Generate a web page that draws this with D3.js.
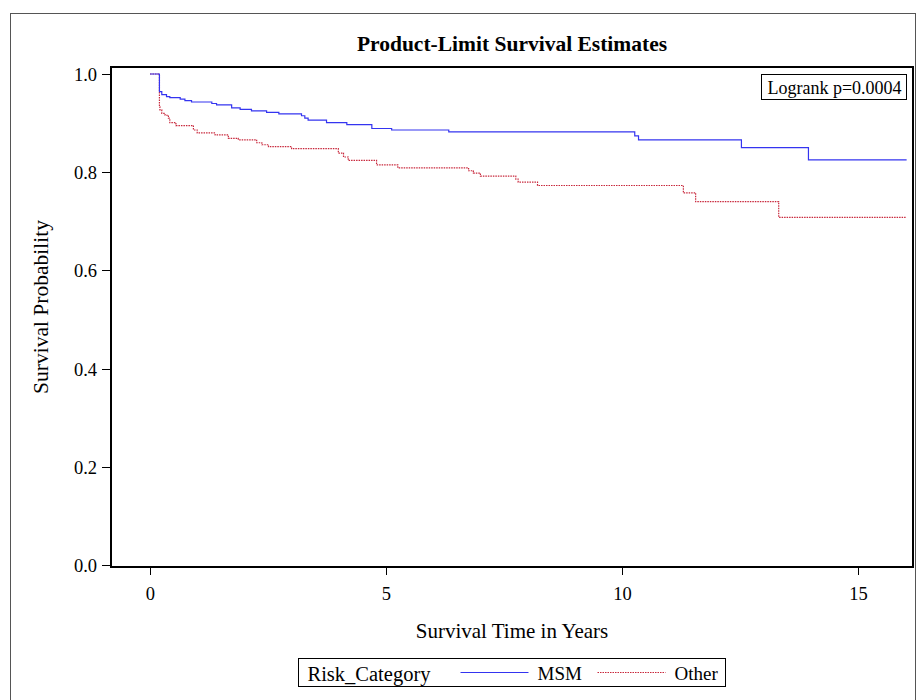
<!DOCTYPE html>
<html>
<head>
<meta charset="utf-8">
<script src="https://cdn.jsdelivr.net/npm/d3@7"></script>
<style>
    body { margin: 0; background: white; }
    svg { display: block; font-family: "Liberation Serif", "Times New Roman", serif; }
    .axis path, .axis line { fill: none; stroke: black; shape-rendering: crispEdges; }
    .axis text { font-family: "Liberation Serif", serif; font-size: 18.5px; fill: black; }
</style>
</head>
<body>
<div id="chart"></div>
<script>
    // Kaplan-Meier step points (time in years, survival)
    var msmTimes = [0, 0.20, 0.25, 0.35, 0.42, 0.64, 0.74, 0.88, 1.31, 1.41, 1.73, 1.91, 2.15, 2.47, 2.73,
        3.21, 3.28, 3.35, 3.74, 4.17, 4.70, 5.12, 6.33, 10.27, 10.35, 12.53, 13.95, 16.03];
    var msmSurv = [1.0, 0.964, 0.958, 0.954, 0.952, 0.949, 0.946, 0.943, 0.940, 0.937, 0.931, 0.928, 0.925, 0.922, 0.919,
        0.915, 0.910, 0.906, 0.901, 0.897, 0.889, 0.886, 0.882, 0.874, 0.866, 0.850, 0.825, 0.825];

    var otherTimes = [0, 0.20, 0.21, 0.25, 0.32, 0.39, 0.42, 0.55, 0.92, 1.00, 1.38, 1.66, 1.87, 2.26, 2.37, 2.51,
        3.00, 3.99, 4.10, 4.20, 4.80, 5.25, 6.75, 6.85, 7.00, 7.75, 7.80, 8.21, 11.30, 11.56, 13.32, 16.03];
    var otherSurv = [1.0, 0.933, 0.927, 0.920, 0.916, 0.910, 0.901, 0.895, 0.886, 0.880, 0.876, 0.869, 0.866, 0.860, 0.856, 0.852,
        0.848, 0.839, 0.831, 0.824, 0.815, 0.809, 0.803, 0.798, 0.792, 0.786, 0.780, 0.773, 0.758, 0.740, 0.708, 0.708];

    var xTicks = [0, 5, 10, 15];
    var yTicks = [0.0, 0.2, 0.4, 0.6, 0.8, 1.0];
    var seriesNames = ["MSM", "Other"];

    var W = 917, H = 700;
    var frame = { left: 111, top: 67, right: 913, bottom: 567 };

    var svg = d3.select("#chart").append("svg")
        .attr("width", W)
        .attr("height", H);

    // outer border of the graph area
    svg.append("rect")
        .attr("x", 10.5).attr("y", 13.5)
        .attr("width", 905).attr("height", 720)
        .attr("fill", "none")
        .attr("stroke", "#555");

    var x = d3.scaleLinear().domain([-0.826, 16.165]).range([frame.left, frame.right]);
    var y = d3.scaleLinear().domain([-0.004, 1.0143]).range([frame.bottom, frame.top]);

    // title
    svg.append("text")
        .attr("x", (frame.left + frame.right) / 2)
        .attr("y", 51)
        .attr("text-anchor", "middle")
        .style("font-weight", "bold")
        .style("font-size", "21.5px")
        .text("Product-Limit Survival Estimates");

    var line = d3.line()
        .x(function (d) { return x(d[0]); })
        .y(function (d) { return y(d[1]); })
        .curve(d3.curveStepAfter);

    var msm = msmTimes.map(function (t, i) { return [t, msmSurv[i]]; });
    var other = otherTimes.map(function (t, i) { return [t, otherSurv[i]]; });

    svg.append("path")
        .datum(other)
        .attr("d", line)
        .attr("fill", "none")
        .attr("stroke", "#c8283c")
        .attr("stroke-width", 1.2)
        .attr("stroke-dasharray", "1.5,1");

    svg.append("path")
        .datum(msm)
        .attr("d", line)
        .attr("fill", "none")
        .attr("stroke", "#3434f0")
        .attr("stroke-width", 1.2);

    // frame
    svg.append("rect")
        .attr("x", frame.left).attr("y", frame.top)
        .attr("width", frame.right - frame.left)
        .attr("height", frame.bottom - frame.top)
        .attr("fill", "none")
        .attr("stroke", "black")
        .attr("stroke-width", 1.5)
        .style("shape-rendering", "crispEdges");

    var xAxis = d3.axisBottom(x).tickValues(xTicks).tickSize(8).tickPadding(12).tickSizeOuter(0)
        .tickFormat(d3.format("d"));
    var gx = svg.append("g")
        .attr("class", "axis")
        .attr("transform", "translate(0," + frame.bottom + ")")
        .call(xAxis);
    gx.select(".domain").remove();

    var yAxis = d3.axisLeft(y).tickValues(yTicks).tickSize(9).tickPadding(5).tickSizeOuter(0)
        .tickFormat(d3.format(".1f"));
    var gy = svg.append("g")
        .attr("class", "axis")
        .attr("transform", "translate(" + frame.left + ",0)")
        .call(yAxis);
    gy.select(".domain").remove();
    gy.selectAll("text").attr("dy", "0.35em");

    // axis labels
    svg.append("text")
        .attr("x", (frame.left + frame.right) / 2)
        .attr("y", 638)
        .attr("text-anchor", "middle")
        .style("font-size", "21px")
        .text("Survival Time in Years");

    svg.append("text")
        .attr("transform", "translate(48," + ((frame.top + frame.bottom) / 2 - 10) + ") rotate(-90)")
        .attr("text-anchor", "middle")
        .style("font-size", "21.5px")
        .text("Survival Probability");

    // logrank box
    var lr = svg.append("g").attr("transform", "translate(761.5,74.5)");
    lr.append("rect")
        .attr("width", 145).attr("height", 25)
        .attr("fill", "white").attr("stroke", "black");
    lr.append("text")
        .attr("x", 73).attr("y", 19)
        .attr("text-anchor", "middle")
        .style("font-size", "18px")
        .text("Logrank p=0.0004");

    // legend
    var lg = svg.append("g").attr("transform", "translate(298.5,658.5)");
    lg.append("rect")
        .attr("width", 427).attr("height", 28)
        .attr("fill", "white").attr("stroke", "black");
    lg.append("text")
        .attr("x", 9).attr("y", 22)
        .style("font-size", "20.5px")
        .text("Risk_Category");

    var legendItems = [
        { name: seriesNames[0], x1: 162, x2: 230, tx: 239, color: "#3434f0", dash: null },
        { name: seriesNames[1], x1: 299, x2: 367, tx: 376, color: "#c8283c", dash: "1.5,1" }
    ];
    legendItems.forEach(function (d) {
        lg.append("line")
            .attr("x1", d.x1).attr("x2", d.x2)
            .attr("y1", 14).attr("y2", 14)
            .attr("stroke", d.color)
            .attr("stroke-width", 1)
            .attr("stroke-dasharray", d.dash);
        lg.append("text")
            .attr("x", d.tx).attr("y", 21)
            .style("font-size", "19px")
            .text(d.name);
    });
</script>
</body>
</html>
